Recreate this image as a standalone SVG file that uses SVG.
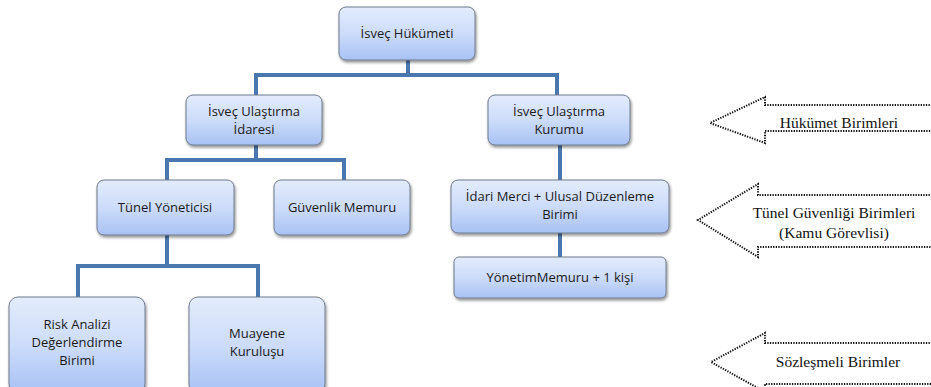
<svg xmlns="http://www.w3.org/2000/svg" width="931" height="387" viewBox="0 0 931 387">
<defs>
<linearGradient id="g" x1="0" y1="0" x2="0" y2="1">
<stop offset="0" stop-color="#e3ecfc"/>
<stop offset="0.5" stop-color="#cddcfa"/>
<stop offset="1" stop-color="#a8c2f4"/>
</linearGradient>
<filter id="sh" x="-10%" y="-10%" width="125%" height="130%">
<feGaussianBlur in="SourceAlpha" stdDeviation="1.5"/>
<feOffset dx="1" dy="2" result="o"/>
<feComponentTransfer><feFuncA type="linear" slope="0.45"/></feComponentTransfer>
<feMerge><feMergeNode/><feMergeNode in="SourceGraphic"/></feMerge>
</filter>
</defs>
<style>
.box{fill:url(#g);stroke:#6f7b8d;stroke-width:1;filter:url(#sh)}
.t{font-family:"Open Sans","Liberation Sans",Arial,sans-serif;font-size:13px;fill:#1a1a1a;text-anchor:middle}
.c{fill:none;stroke:#4a78ae;stroke-width:4}
.arr{fill:#fff;stroke:#111;stroke-width:2;stroke-dasharray:1.3 1.3}
.s{font-family:"Liberation Serif","Times New Roman",serif;font-size:15.5px;fill:#111;text-anchor:middle}
</style>
<rect width="931" height="387" fill="#fff"/>
<g id="connectors">
<path class="c" d="M408 60 V75 M256 95 V75 H557 V95"/>
<path class="c" d="M256 145 V160 M167 180 V160 H344 V180"/>
<path class="c" d="M560 145 V180 M560 233 V257"/>
<path class="c" d="M167 235 V266 M78 297 V266 H258 V297"/>
</g>
<g id="n1"><rect class="box" x="339" y="7" width="136" height="53" rx="7"/><text class="t" x="407" y="38">İsveç Hükümeti</text></g>
<g id="n2"><rect class="box" x="186" y="95" width="136" height="50" rx="7"/><text class="t" x="254" y="116">İsveç Ulaştırma</text><text class="t" x="254" y="134">İdaresi</text></g>
<g id="n3"><rect class="box" x="488" y="95" width="142" height="50" rx="7"/><text class="t" x="559" y="116">İsveç Ulaştırma</text><text class="t" x="559" y="134">Kurumu</text></g>
<g id="n4"><rect class="box" x="97" y="180" width="137" height="55" rx="7"/><text class="t" x="165" y="212">Tünel Yöneticisi</text></g>
<g id="n5"><rect class="box" x="274" y="180" width="136" height="55" rx="7"/><text class="t" x="342" y="212">Güvenlik Memuru</text></g>
<g id="n6"><rect class="box" x="451" y="180" width="218" height="53" rx="7"/><text class="t" x="560" y="201">İdari Merci + Ulusal Düzenleme</text><text class="t" x="560" y="219">Birimi</text></g>
<g id="n7"><rect class="box" x="454" y="257" width="212" height="41" rx="5"/><text class="t" x="560" y="282">YönetimMemuru + 1 kişi</text></g>
<g id="n8"><rect class="box" x="9" y="297" width="136" height="96" rx="9"/><text class="t" x="77" y="329">Risk Analizi</text><text class="t" x="77" y="347">Değerlendirme</text><text class="t" x="77" y="365">Birimi</text></g>
<g id="n9"><rect class="box" x="189" y="297" width="136" height="96" rx="9"/><text class="t" x="257" y="338">Muayene</text><text class="t" x="257" y="356">Kuruluşu</text></g>
<g id="a1"><path class="arr" d="M935 105 H765 V97 L710 123 L765 143 V131 H935"/><text class="s" x="839" y="128">Hükümet Birimleri</text></g>
<g id="a2"><path class="arr" d="M935 195 H758 V184 L698 220 L758 257 V247 H935"/><text class="s" x="834" y="218">Tünel Güvenliği Birimleri</text><text class="s" x="834" y="238">(Kamu Görevlisi)</text></g>
<g id="a3"><path class="arr" d="M935 343 H765 V333 L711 362 L765 392 V384 H935"/><text class="s" x="838" y="367">Sözleşmeli Birimler</text></g>
</svg>
